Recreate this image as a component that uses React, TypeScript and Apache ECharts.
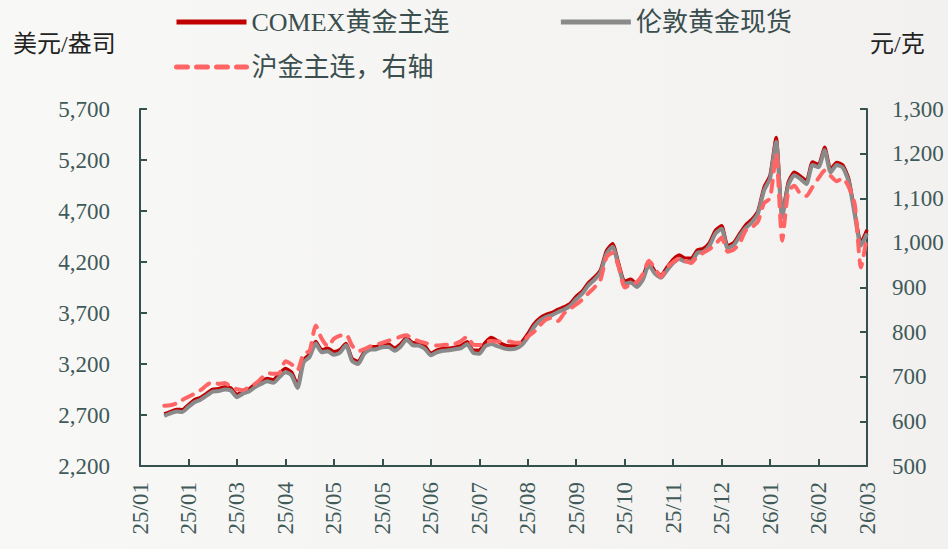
import React, { useEffect, useRef } from "react";
import * as echarts from "echarts";

const xTickLabels = ["25/01", "25/01", "25/03", "25/04", "25/05", "25/05", "25/06", "25/07", "25/08", "25/09", "25/10", "25/11", "25/12", "26/01", "26/02", "26/03"];
const STEPS_PER_TICK = 8;
const LEADING_EMPTY = 4;

const comex = [
  2710, 2732, 2755, 2752, 2800, 2850, 2872, 2912, 2950, 2958,
  2975, 2965, 2900, 2935, 2955, 3002, 3030, 3058, 3045, 3105,
  3155, 3120, 3000, 3240, 3295, 3420, 3340, 3354, 3320, 3340,
  3400, 3255, 3225, 3320, 3365, 3370, 3390, 3395, 3356, 3395,
  3460, 3408, 3405, 3380, 3305, 3336, 3352, 3354, 3365, 3380,
  3418, 3335, 3335, 3412, 3460, 3425, 3390, 3376, 3380, 3414,
  3495, 3590, 3650, 3685, 3705, 3735, 3760, 3792, 3862, 3915,
  3995, 4050, 4120, 4310, 4380, 4185, 4010, 4030, 3980, 4055,
  4200, 4110, 4072, 4150, 4225, 4268, 4238, 4236, 4316, 4332,
  4390, 4510, 4555, 4360, 4390, 4480, 4565, 4618, 4700, 4930,
  5050, 5420, 4660, 4980, 5080, 5042, 4995, 5180, 5155, 5325,
  5110, 5175, 5150, 5010, 4680, 4390, 4515,
];

const london = [
  2690, 2715, 2735, 2730, 2780, 2825, 2850, 2890, 2930, 2935,
  2950, 2940, 2875, 2910, 2930, 2975, 3005, 3030, 3015, 3070,
  3120, 3090, 2965, 3215, 3270, 3400, 3315, 3325, 3290, 3310,
  3385, 3230, 3200, 3300, 3340, 3345, 3365, 3370, 3330, 3370,
  3440, 3385, 3380, 3350, 3285, 3315, 3330, 3335, 3345, 3355,
  3395, 3310, 3300, 3375, 3395, 3375, 3355, 3345, 3350, 3385,
  3460, 3560, 3625, 3660, 3680, 3710, 3735, 3770, 3835, 3890,
  3970, 4025, 4095, 4280, 4350, 4160, 3985, 4000, 3955, 4025,
  4170, 4085, 4045, 4120, 4190, 4230, 4205, 4205, 4290, 4300,
  4360, 4480, 4525, 4335, 4365, 4455, 4535, 4590, 4675, 4900,
  5020, 5380, 4640, 4950, 5050, 5015, 4965, 5150, 5130, 5295,
  5080, 5150, 5125, 4985, 4655, 4360, 4480,
];

const shfe = [
  635, 636, 640, 648, 655, 662, 670, 681, 689, 684,
  686, 678, 672, 670, 677, 684, 696, 708, 707, 708,
  735, 728, 715, 752, 758, 815, 785, 768, 785, 792,
  795, 770, 757, 762, 768, 772, 776, 781, 784, 790,
  793, 785, 780, 776, 772, 770, 771, 772, 774, 780,
  790, 772, 771, 778, 780, 779, 779, 779, 776, 776,
  790, 800, 815, 828, 832, 825, 842, 852, 862, 873,
  887, 900, 917, 968, 978, 947, 900, 907, 912, 930,
  960, 942, 924, 945, 957, 965, 960, 955, 970, 978,
  986, 997, 1012, 980, 985, 1000, 1028, 1035, 1048, 1089,
  1100, 1200, 1005, 1115, 1128, 1110, 1105, 1125, 1145, 1162,
  1150, 1138, 1145, 1125, 1085, 945, 1015,
];

const seriesNames = ["COMEX黄金主连", "伦敦黄金现货", "沪金主连，右轴"];
const leftAxisName = "美元/盎司";
const rightAxisName = "元/克";

const FONT = "'Liberation Serif', 'Noto Sans CJK SC', serif";
const AXIS_COLOR = "#34504f";
const LABEL_COLOR = "#3f5a59";

export default function App() {
  const ref = useRef<HTMLDivElement>(null);

  useEffect(() => {
    if (!ref.current) return;
    const chart = echarts.init(ref.current, null, { renderer: "svg" });
    const total = (xTickLabels.length - 1) * STEPS_PER_TICK + 1;
    const categories = Array.from({ length: total }, (_, i) => String(i));
    const pad = (arr: number[]) => [...Array(LEADING_EMPTY).fill(null), ...arr];

    const legendCommon = {
      left: 174,
      padding: 0,
      itemWidth: 70,
      itemHeight: 2,
      itemStyle: { opacity: 0 },
      lineStyle: { width: 5 },
      textStyle: { fontFamily: FONT, fontSize: 26, color: "#3a4e4e" },
    };

    chart.setOption({
      animation: false,
      backgroundColor: "transparent",
      grid: { left: 140, right: 81, top: 109, bottom: 83, containLabel: false },
      legend: [
        { ...legendCommon, data: [seriesNames[0], seriesNames[1]], top: 9, itemGap: 109 },
        { ...legendCommon, data: [seriesNames[2]], top: 54 },
      ],
      graphic: [
        {
          type: "text",
          left: 13,
          top: 32,
          style: { text: leftAxisName, font: `24px ${FONT}`, fill: "#222" },
        },
        {
          type: "text",
          left: 870,
          top: 32,
          style: { text: rightAxisName, font: `24px ${FONT}`, fill: "#222" },
        },
      ],
      xAxis: {
        type: "category",
        data: categories,
        boundaryGap: false,
        axisLine: { lineStyle: { color: AXIS_COLOR, width: 2 } },
        axisTick: {
          inside: true,
          length: 7,
          interval: STEPS_PER_TICK - 1,
          lineStyle: { color: AXIS_COLOR, width: 2 },
        },
        axisLabel: {
          interval: STEPS_PER_TICK - 1,
          rotate: 90,
          margin: 16,
          color: LABEL_COLOR,
          fontFamily: FONT,
          fontSize: 23,
          formatter: (_v: string, idx: number) => xTickLabels[Math.round(idx / STEPS_PER_TICK)] ?? "",
        },
        splitLine: { show: false },
      },
      yAxis: [
        {
          type: "value",
          min: 2200,
          max: 5700,
          interval: 500,
          position: "left",
          axisLine: { show: true, lineStyle: { color: AXIS_COLOR, width: 2 } },
          axisTick: { show: true, inside: true, length: 7, lineStyle: { color: AXIS_COLOR, width: 2 } },
          axisLabel: {
            margin: 30,
            color: LABEL_COLOR,
            fontFamily: FONT,
            fontSize: 23,
            formatter: (v: number) => v.toLocaleString("en-US"),
          },
          splitLine: { show: false },
        },
        {
          type: "value",
          min: 500,
          max: 1300,
          interval: 100,
          position: "right",
          axisLine: { show: true, lineStyle: { color: AXIS_COLOR, width: 2 } },
          axisTick: { show: true, inside: true, length: 7, lineStyle: { color: AXIS_COLOR, width: 2 } },
          axisLabel: {
            margin: 25,
            color: LABEL_COLOR,
            fontFamily: FONT,
            fontSize: 23,
            formatter: (v: number) => v.toLocaleString("en-US"),
          },
          splitLine: { show: false },
        },
      ],
      series: [
        {
          name: seriesNames[0],
          type: "line",
          data: pad(comex),
          yAxisIndex: 0,
          symbol: "none",
          smooth: 0.2,
          color: "#c00000",
          lineStyle: { color: "#c00000", width: 3.5 },
        },
        {
          name: seriesNames[1],
          type: "line",
          data: pad(london),
          yAxisIndex: 0,
          symbol: "none",
          smooth: 0.2,
          color: "#8a8a8a",
          lineStyle: { color: "#8a8a8a", width: 4 },
        },
        {
          name: seriesNames[2],
          type: "line",
          data: pad(shfe),
          yAxisIndex: 1,
          symbol: "none",
          smooth: 0.2,
          color: "#ff6565",
          lineStyle: { color: "#ff6565", width: 4, type: [11, 9], cap: "round" },
        },
      ],
    });
    return () => chart.dispose();
  }, []);

  return (
    <div
      ref={ref}
      style={{
        position: "absolute",
        left: 0,
        top: 0,
        width: 948,
        height: 549,
        background: "linear-gradient(to right, #f8f8f6, #f2f1ef)",
      }}
    />
  );
}
